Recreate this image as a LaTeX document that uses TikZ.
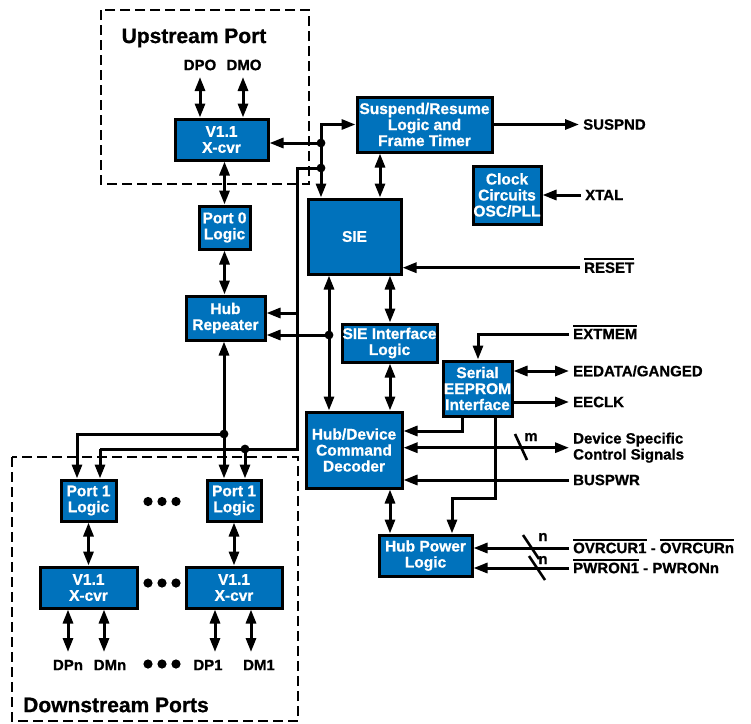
\documentclass[tikz,border=0pt]{standalone}
\usepackage{fontspec}
\setmainfont{Liberation Sans}[BoldFeatures={FakeBold=0.8}]
\usetikzlibrary{arrows.meta}
\definecolor{adiblue}{RGB}{0,114,188}
\newsavebox\ovlbox
\newcommand\ovl[1]{\sbox\ovlbox{#1}\smash{\rlap{\rule[\dimexpr\ht\ovlbox+2.2pt\relax]{\wd\ovlbox}{2pt}}}\usebox\ovlbox}
\begin{document}
\begin{tikzpicture}[x=1pt,y=-1pt,
  box/.style={draw=black, line width=3pt, fill=adiblue, text=white, font=\bfseries\fontsize{15.5}{16}\selectfont, align=center, inner sep=0pt},
  lbl/.style={font=\bfseries\fontsize{15}{16}\selectfont, inner xsep=4pt, inner ysep=0pt, anchor=west, align=left},
  plbl/.style={font=\bfseries\fontsize{15}{16}\selectfont, inner sep=0pt},
  ttl/.style={font=\bfseries\fontsize{21}{24}\selectfont, inner sep=0pt},
  wire/.style={line width=3pt},
  arr/.style={wire, -{Triangle[length=14pt,width=10pt]}},
  dbl/.style={wire, {Triangle[length=14pt,width=10pt]}-{Triangle[length=14pt,width=10pt]}},
  portbox/.style={line width=2.5pt, dash pattern=on 10pt off 5pt},
  slashln/.style={line width=2.6pt}
]
\useasboundingbox (0,0) rectangle (751,723);

% dashed port regions
\draw[portbox] (101,10) rectangle (309,184);
\draw[portbox] (12,457) rectangle (298,721);
\node[ttl] (upt) at (194,38) {Upstream Port};
\node[ttl] (dnt) at (116,705) {Downstream Ports};

% blocks
\node[box, minimum width=93pt, minimum height=41pt] (upx) at (221.5,139.5) {V1.1\\X-cvr};
\node[box, minimum width=135pt, minimum height=55pt] (susp) at (424.5,124.5) {Suspend/Resume\\Logic and\\Frame Timer};
\node[box, minimum width=68pt, minimum height=58pt] (clk) at (507,195) {Clock\\Circuits\\OSC/PLL};
\node[box, minimum width=93pt, minimum height=75pt] (sie) at (354.5,236.5) {SIE};
\node[box, minimum width=51pt, minimum height=43pt] (p0) at (224.5,227.5) {Port 0\\Logic};
\node[box, minimum width=79pt, minimum height=44pt] (hubrep) at (225.5,318) {Hub\\Repeater};
\node[box, minimum width=95pt, minimum height=38pt] (sieif) at (389.5,343) {SIE Interface\\Logic};
\node[box, minimum width=69pt, minimum height=55pt] (eeprom) at (477.5,388.5) {Serial\\EEPROM\\Interface};
\node[box, minimum width=96pt, minimum height=76pt] (dec) at (354,450) {Hub/Device\\Command\\Decoder};
\node[box, minimum width=93pt, minimum height=41pt] (hpl) at (425.5,555.5) {Hub Power\\Logic};
\node[box, minimum width=55pt, minimum height=41pt] (p1a) at (88.5,500.5) {Port 1\\Logic};
\node[box, minimum width=54pt, minimum height=41pt] (p1b) at (234,500.5) {Port 1\\Logic};
\node[box, minimum width=97pt, minimum height=41pt] (xa) at (88.5,587.5) {V1.1\\X-cvr};
\node[box, minimum width=96pt, minimum height=41pt] (xb) at (234,587.5) {V1.1\\X-cvr};

% external labels
\node[plbl] (dpo) at (200,65) {DPO};
\node[plbl] (dmo) at (244,65) {DMO};
\node[lbl] (suspnd) at (579,124.5) {SUSPND};
\node[lbl] (xtal) at (581,195) {XTAL};
\node[lbl] (reset) at (580,267.7) {\ovl{RESET}};
\node[lbl] (extmem) at (569,334) {\ovl{EXTMEM}};
\node[lbl] (eedata) at (569,371) {EEDATA/GANGED};
\node[lbl] (eeclk) at (569,402) {EECLK};
\node[lbl] (dev) at (569,447.7) {Device Specific\\Control Signals};
\node[lbl] (buspwr) at (569,480) {BUSPWR};
\node[lbl] (ovr) at (569,548) {\ovl{OVRCUR1} - \ovl{OVRCURn}};
\node[lbl] (pwr) at (569,568) {\ovl{PWRON1} - PWRONn};
\node[plbl] (dpn) at (68,665) {DPn};
\node[plbl] (dmn) at (110,665) {DMn};
\node[plbl] (dp1) at (208,665) {DP1};
\node[plbl] (dm1) at (259,665) {DM1};
\node[plbl] (mlbl) at (531,437) {m};
\node[plbl] (n1) at (543,537) {n};
\node[plbl] (n2) at (543,560) {n};

% helper coordinates
\coordinate (j1) at (321,143);
\coordinate (j2) at (321,168);
\coordinate (b1) at (297,449);
\coordinate (j5) at (245,449);
\coordinate (b2) at (100,449);
\coordinate (t1) at (297,313);
\coordinate (j3) at (329,335);
\coordinate (j4) at (224,434);
\coordinate (b3) at (77,434);
\coordinate (xs) at (380,0);
\coordinate (xi) at (390,0);
\coordinate (e1) at (478,334);
\coordinate (e2) at (462,431);
\coordinate (e3) at (495,498);
\coordinate (e4) at (452,498);
\coordinate (u1) at (200,77);
\coordinate (u2) at (243,77);
\coordinate (d1) at (68,652);
\coordinate (d2) at (104,652);
\coordinate (d3) at (215,652);
\coordinate (d4) at (251,652);

% upstream
\draw[dbl] (u1) -- (u1 |- upx.north);
\draw[dbl] (u2) -- (u2 |- upx.north);
\draw[dbl] (p0.north |- upx.south) -- (p0.north);
\draw[dbl] (p0.south) -- (p0.south |- hubrep.north);
\draw[arr] (j1) -- (j1 -| upx.east);
\draw[arr] (j1) |- (susp.west);
\draw[arr] (j1) -- (j1 |- sie.north);
\draw[wire] (j2) -| (b1) -- (b2);
\draw[arr] (b2) -- (b2 |- p1a.north);
\draw[arr] (j5) -- (j5 |- p1b.north);
\draw[arr] (t1) -- (t1 -| hubrep.east);
\draw[arr] (j3) -- (j3 -| hubrep.east);
\draw[dbl] (j3 |- sie.south) -- (j3 |- dec.north);
\draw[dbl] (j4 |- hubrep.south) -- (j4 |- p1b.north);
\draw[arr] (j4) -- (b3) -- (b3 |- p1a.north);

% core
\draw[dbl] (xs |- susp.south) -- (xs |- sie.north);
\draw[arr] (susp.east) -- (susp.east -| suspnd.west);
\draw[arr] (xtal.west) -- (xtal.west -| clk.east);
\draw[arr] (reset.west) -- (reset.west -| sie.east);
\draw[dbl] (xi |- sie.south) -- (xi |- sieif.north);
\draw[dbl] (xi |- sieif.south) -- (xi |- dec.north);
\draw[dbl] (xi |- dec.south) -- (xi |- hpl.north);
\draw[arr] (extmem.west) -- (e1) -- (e1 |- eeprom.north);
\draw[dbl] (eeprom.east |- eedata.west) -- (eedata.west);
\draw[arr] (eeprom.east |- eeclk.west) -- (eeclk.west);
\draw[arr] (e2 |- eeprom.south) -- (e2) -- (e2 -| dec.east);
\draw[dbl] (dec.east |- dev.west) -- (dev.west);
\draw[arr] (buspwr.west) -- (buspwr.west -| dec.east);
\draw[arr] (e3 |- eeprom.south) -- (e3) -- (e4) -- (e4 |- hpl.north);
\draw[arr] (ovr.west) -- (ovr.west -| hpl.east);
\draw[arr] (pwr.west) -- (pwr.west -| hpl.east);
\draw[slashln] (515,434) -- (527,460);
\draw[slashln] (523,535) -- (539,559);
\draw[slashln] (529,556) -- (545,580);

% downstream
\draw[dbl] (p1a.south) -- (p1a.south |- xa.north);
\draw[dbl] (p1b.south) -- (p1b.south |- xb.north);
\draw[dbl] (d1 |- xa.south) -- (d1);
\draw[dbl] (d2 |- xa.south) -- (d2);
\draw[dbl] (d3 |- xb.south) -- (d3);
\draw[dbl] (d4 |- xb.south) -- (d4);

% ellipsis dots
\foreach \yy in {501.5,583,664} {
  \foreach \xx in {148,162,176} {\fill (\xx,\yy) circle (4.6pt);}
}

% junction dots
\foreach \p in {j1,j2,j3,j4,j5} {\fill (\p) circle (4.4pt);}
\end{tikzpicture}
\end{document}
